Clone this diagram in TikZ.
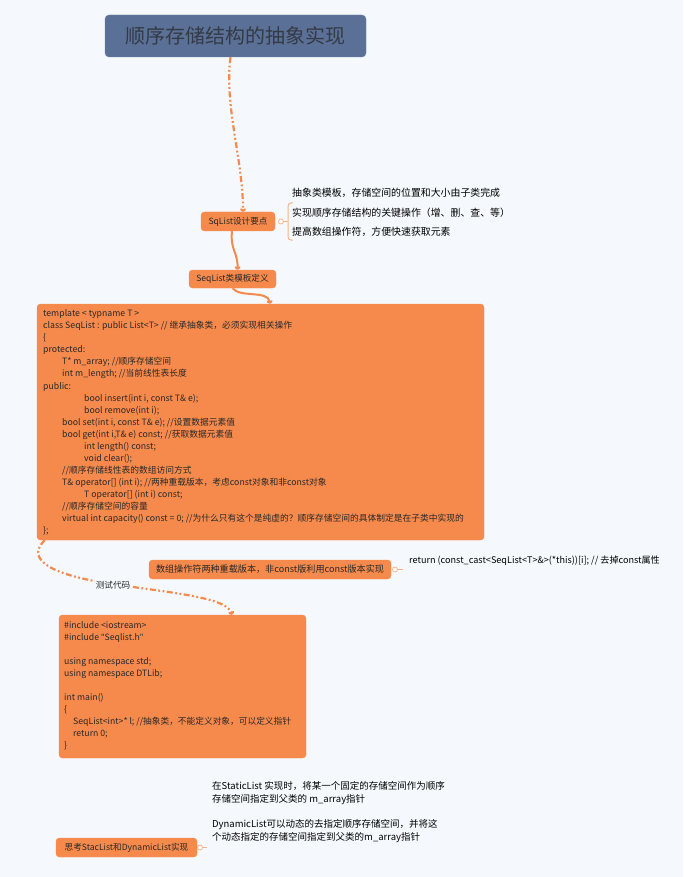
\documentclass[tikz,border=0pt]{standalone}
\usepackage{fontspec}
\setmainfont{Noto Sans CJK SC}
\newfontfamily\latinq{Noto Sans}
\usetikzlibrary{arrows.meta}
\definecolor{bgc}{RGB}{245,249,253}
\definecolor{orng}{RGB}{246,138,76}
\definecolor{conn}{RGB}{245,138,78}
\definecolor{lightor}{RGB}{247,180,140}
\definecolor{titlec}{RGB}{91,112,150}
\definecolor{titletx}{RGB}{52,58,70}
\definecolor{txt}{RGB}{40,40,40}
\tikzset{
  obox/.style={fill=orng, draw=orng, rounded corners=3.5pt, inner sep=0pt, text=txt},
  codetxt/.style={anchor=north west, inner sep=0pt, align=left, text=txt, font=\fontsize{8.75}{12.06}\selectfont},
  plaintxt/.style={anchor=west, inner sep=0pt, text=black},
  solidconn/.style={draw=conn, line width=2pt, -{To[length=3.5pt,width=6pt]}},
  dashconn/.style={draw=conn, line width=2.2pt, dash pattern=on 6pt off 2.5pt on 1.8pt off 2.5pt on 1.8pt off 2.5pt, -{To[length=3.5pt,width=6pt]}},
  knob/.style={circle, draw=lightor, fill=white, line width=0.8pt, inner sep=0pt, minimum size=5pt},
  knobline/.style={draw=lightor, line width=1pt},
}
\begin{document}
\begin{tikzpicture}[x=1pt,y=-1pt]
\fill[bgc] (0,0) rectangle (683,877);
\useasboundingbox (0,0) rectangle (683,877);

% title
\node[fill=titlec, draw=titlec!85!white, rounded corners=4pt, minimum width=261pt, minimum height=42pt, inner sep=0pt,
      text=titletx, font=\fontsize{20}{23}\selectfont] (title) at (235.5,36) {顺序存储结构的抽象实现};

% SqList design points
\node[obox, minimum width=74pt, minimum height=19pt, font=\fontsize{8.6}{10}\selectfont] (sq) at (238,221.5) {SqList设计要点};
\node[knob] (sqk) at (281,221.5) {};
\coordinate (br) at (288,221.5);
\draw[knobline] (sqk.east) -- (br);
\draw[knobline, rounded corners=3pt] (293,203) -- (288,203) -- (288,240) -- (293,240);
\node[plaintxt, font=\fontsize{9.9}{11}\selectfont] (p1) at (292,193) {抽象类模板，存储空间的位置和大小由子类完成};
\node[plaintxt, font=\fontsize{9.9}{11}\selectfont] (p2) at (292,212.5) {实现顺序存储结构的关键操作（增、删、查、等）};
\node[plaintxt, font=\fontsize{9.9}{11}\selectfont] (p3) at (292,232) {提高数组操作符，方便快速获取元素};

% SeqList template def
\node[obox, minimum width=87pt, minimum height=18pt, font=\fontsize{8.6}{10}\selectfont] (def) at (232.5,279) {SeqList类模板定义};

% code box
\node[obox, minimum width=447pt, minimum height=236pt] (code) at (260.5,422) {};
\node[codetxt] (codet) at (43,309.5) {template < typname T >\\
class SeqList : public List<T> // 继承抽象类，必须实现相关操作\\
\{\\
protected:\\
\hspace*{19pt}T* m\_array; //顺序存储空间\\
\hspace*{19pt}int m\_length; //当前线性表长度\\
public:\\
\hspace*{41pt}bool insert(int i, const T\& e);\\
\hspace*{41pt}bool remove(int i);\\
\hspace*{19pt}bool set(int i, const T\& e); //设置数据元素值\\
\hspace*{19pt}bool get(int i,T\& e) const; //获取数据元素值\\
\hspace*{41pt}int length() const;\\
\hspace*{41pt}void clear();\\
\hspace*{19pt}//顺序存储线性表的数组访问方式\\
\hspace*{19pt}T\& operator[] (int i); //两种重载版本，考虑const对象和非const对象\\
\hspace*{41pt}T operator[] (int i) const;\\
\hspace*{19pt}//顺序存储空间的容量\\
\hspace*{19pt}virtual int capacity() const = 0; //为什么只有这个是纯虚的？顺序存储空间的具体制定是在子类中实现的\\
\};};

% array operator node
\node[obox, minimum width=242pt, minimum height=19pt, font=\fontsize{9.1}{10}\selectfont] (arr) at (270,569.5) {数组操作符两种重载版本，非const版利用const版本实现};
\node[knob] (arrk) at (395,569.5) {};
\coordinate (arre) at (403,569.5);
\draw[knobline] (arrk.east) -- (arre);
\node[plaintxt, font=\fontsize{9.1}{10}\selectfont] (ret) at (409,561) {return (const\_cast<SeqList<T>\&>(*this))[i]; // 去掉const属性};

% test code box
\node[obox, minimum width=247pt, minimum height=143pt] (test) at (182.5,686.5) {};
\node[codetxt, font=\fontsize{8.7}{12}\selectfont] (testt) at (64,621.5) {\#include <iostream>\\
\#include {\latinq"}Seqlist.h{\latinq"}\\
\\
using namespace std;\\
using namespace DTLib;\\
\\
int main()\\
\{\\
\hspace*{9pt}SeqList<int>* l; //抽象类，不能定义对象，可以定义指针\\
\hspace*{9pt}return 0;\\
\}};

% bottom node and notes
\node[obox, minimum width=141pt, minimum height=19pt, font=\fontsize{8.6}{10}\selectfont] (think) at (126.5,847.5) {思考StacList和DynamicList实现};
\node[knob] (thk) at (200,847.5) {};
\coordinate (the) at (207,847.5);
\draw[knobline] (thk.east) -- (the);
\node[codetxt, text=black, font=\fontsize{9.5}{13}\selectfont] (n1) at (212,781) {在StaticList 实现时，将某一个固定的存储空间作为顺序\\存储空间指定到父类的 m\_array指针};
\node[codetxt, text=black, font=\fontsize{9.5}{13}\selectfont] (n2) at (212,819) {DynamicList可以动态的去指定顺序存储空间，并将这\\个动态指定的存储空间指定到父类的m\_array指针};

% connectors
\draw[dashconn] ([xshift=-5pt]title.south) .. controls (224,105) and (243,160) .. ([xshift=5pt]sq.north);
\draw[solidconn] ([xshift=-6pt]sq.south) .. controls (230,250) and (238,252) .. ([xshift=5pt]def.north);
\draw[solidconn] (def.south) .. controls (240,298) and (268,290) .. ([xshift=9.5pt]code.north);
\draw[dashconn] ([xshift=8pt]code.south west) .. controls (28,556) and (42,572) .. (100,582)
   .. controls (160,592) and (226,596) .. ([xshift=49.5pt]test.north);
\node[fill=bgc, inner sep=1pt, text=txt, font=\fontsize{8.6}{10}\selectfont] (lbl) at (113,585) {测试代码};
\end{tikzpicture}
\end{document}
